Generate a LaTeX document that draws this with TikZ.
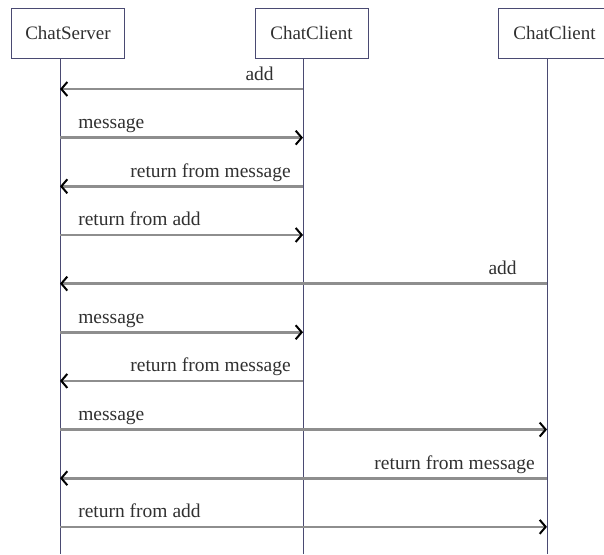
\documentclass[tikz,border=0pt]{standalone}
\usepackage{fontspec}
\setmainfont{Liberation Serif}
\usetikzlibrary{arrows.meta}
\definecolor{lifec}{HTML}{4A4A72}
\definecolor{msgc}{HTML}{8E8E8E}
\definecolor{txtc}{HTML}{303030}
\begin{document}
\begin{tikzpicture}[x=1pt,y=-1pt,
  objbox/.style={draw=lifec, line width=1pt, minimum width=113pt, minimum height=50pt, inner sep=0pt, font=\fontsize{19}{22}\selectfont, text=txtc},
  lifeline/.style={draw=lifec, line width=1pt},
  msg/.style={draw=msgc, line width=2.6pt, -{Straight Barb[length=6pt,width=14pt,color=black,line width=2pt]}},
  lbl/.style={font=\fontsize{19.5}{22}\selectfont, text=txtc, inner sep=0pt}]
\useasboundingbox (0,0) rectangle (604,554);
\clip (0,0) rectangle (604,554);
% objects
\node[objbox] (srv) at (68,33) {ChatServer};
\node[objbox] (cla) at (311.5,33) {ChatClient};
\node[objbox] (clb) at (554.5,33) {ChatClient};
% lifelines
\coordinate (srvtop) at (60,58);
\coordinate (srvbot) at (60,554);
\coordinate (clatop) at (303,58);
\coordinate (clabot) at (303,554);
\coordinate (clbtop) at (547,58);
\coordinate (clbbot) at (547,554);
\draw[lifeline] (srvtop) -- (srvbot);
\draw[lifeline] (clatop) -- (clabot);
\draw[lifeline] (clbtop) -- (clbbot);
% message rows
\foreach \k in {0,...,9}{
  \coordinate (S\k) at (60,89+48.65*\k);
  \coordinate (A\k) at (303,89+48.65*\k);
  \coordinate (B\k) at (547,89+48.65*\k);
}
\draw[msg] (A0) -- (S0) node[lbl, pos=0, anchor=base east, xshift=-28pt, yshift=9pt] {add};
\draw[msg] (S1) -- (A1) node[lbl, pos=0, anchor=base west, xshift=17pt, yshift=9pt] {message};
\draw[msg] (A2) -- (S2) node[lbl, pos=0, anchor=base east, xshift=-11pt, yshift=9pt] {return from message};
\draw[msg] (S3) -- (A3) node[lbl, pos=0, anchor=base west, xshift=17pt, yshift=9pt] {return from add};
\draw[msg] (B4) -- (S4) node[lbl, pos=0, anchor=base east, xshift=-29pt, yshift=9pt] {add};
\draw[msg] (S5) -- (A5) node[lbl, pos=0, anchor=base west, xshift=17pt, yshift=9pt] {message};
\draw[msg] (A6) -- (S6) node[lbl, pos=0, anchor=base east, xshift=-11pt, yshift=9pt] {return from message};
\draw[msg] (S7) -- (B7) node[lbl, pos=0, anchor=base west, xshift=17pt, yshift=9pt] {message};
\draw[msg] (B8) -- (S8) node[lbl, pos=0, anchor=base east, xshift=-11pt, yshift=9pt] {return from message};
\draw[msg] (S9) -- (B9) node[lbl, pos=0, anchor=base west, xshift=17pt, yshift=9pt] {return from add};
\end{tikzpicture}
\end{document}
